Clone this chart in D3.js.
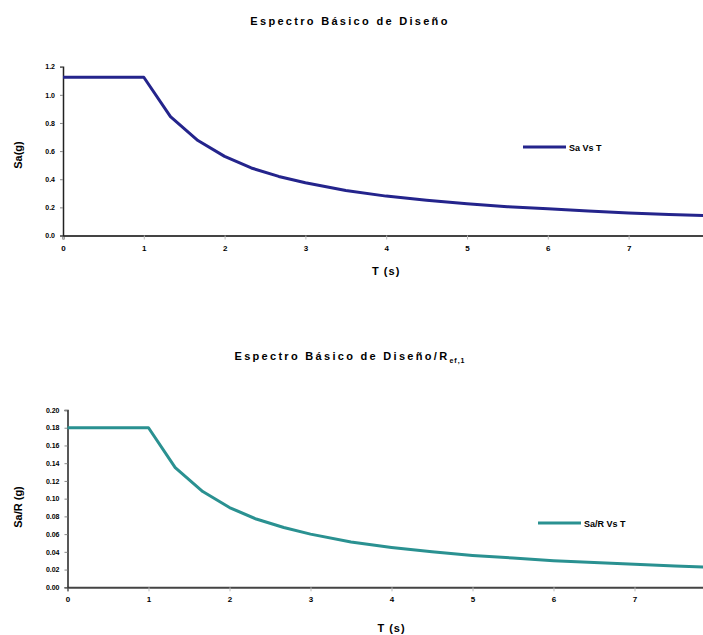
<!DOCTYPE html>
<html>
<head>
<meta charset="utf-8">
<script src="https://cdn.jsdelivr.net/npm/d3@7"></script>
<style>
body{margin:0;background:#fff;}
text{font-family:"Liberation Sans",Arial,sans-serif;fill:#000;}
</style>
</head>
<body>
<div id="canvas"></div>
<script>
// espectro.js

var width = 703;
var height = 635;

// periods (s)
var periods = [0, 0.5, 1, 1.33, 1.67, 2, 2.33, 2.67, 3, 3.5, 4, 4.5, 5, 5.5, 6, 6.5, 7, 7.5, 8];
// Sa (g)
var sa = [1.125, 1.125, 1.125, 0.845, 0.675, 0.5625, 0.48, 0.42, 0.375, 0.32, 0.28, 0.25, 0.225, 0.205, 0.19, 0.175, 0.16, 0.15, 0.14];
// Sa/R (g)
var saR = [0.18, 0.18, 0.18, 0.135, 0.108, 0.09, 0.077, 0.0675, 0.06, 0.051, 0.045, 0.04, 0.036, 0.033, 0.03, 0.028, 0.026, 0.024, 0.0225];

var xTicks = [0, 1, 2, 3, 4, 5, 6, 7];
var yTicksTop = [0, 0.2, 0.4, 0.6, 0.8, 1.0, 1.2];
var yTicksBot = [0, 0.02, 0.04, 0.06, 0.08, 0.10, 0.12, 0.14, 0.16, 0.18, 0.20];

var charts = [
	{title: "Espectro Básico de Diseño", ylabel: "Sa(g)", legend: "Sa Vs T", values: sa,
	 color: "#24248c", x0: 63, dx: 80.8, yTop: 66.7, yBot: 235.5, ymax: 1.2, yticks: yTicksTop, fmt: ".1f",
	 titleY: 25, xlabY: 275, ylabX: 22, ylabY: 155, legX: 523, legY: 147},
	{title: "Espectro Básico de Diseño/R", sub: "ef,1", ylabel: "Sa/R (g)", legend: "Sa/R Vs T", values: saR,
	 color: "#2a9191", x0: 67.5, dx: 81, yTop: 410, yBot: 587.3, ymax: 0.2, yticks: yTicksBot, fmt: ".2f",
	 titleY: 360, xlabY: 632, ylabX: 22, ylabY: 507, legX: 538, legY: 523}
];

var svg = d3.select("#canvas").append("svg")
	.attr("width", width)
	.attr("height", height);

charts.forEach(function(c){
	var x = d3.scaleLinear().domain([0, 8]).range([c.x0, c.x0 + 8*c.dx]);
	var y = d3.scaleLinear().domain([0, c.ymax]).range([c.yBot, c.yTop]);
	var g = svg.append("g");

	// title
	var t = g.append("text")
		.attr("x", 350).attr("y", c.titleY)
		.attr("text-anchor", "middle")
		.style("font-size", "11px").style("font-weight", "bold")
		.style("letter-spacing", "2.3px")
		.text(c.title);
	if(c.sub){
		t.append("tspan").attr("dy", 3).style("font-size", "7px").style("letter-spacing", "1px").text(c.sub);
	}

	// x axis
	var xa = g.append("g")
		.attr("transform", "translate(0," + c.yBot + ")")
		.call(d3.axisBottom(x).tickValues(xTicks).tickSize(4).tickFormat(d3.format("d")));
	xa.select(".domain").attr("stroke", "#444").attr("stroke-width", 2);
	xa.selectAll(".tick line").attr("stroke", "#bbb");
	xa.selectAll(".tick text").attr("dy", "1.0em")
		.style("font-size", "8px").style("font-weight", "bold");

	// y axis
	var ya = g.append("g")
		.attr("transform", "translate(" + c.x0 + ",0)")
		.call(d3.axisLeft(y).tickValues(c.yticks).tickSize(3).tickFormat(d3.format(c.fmt)));
	ya.select(".domain").attr("stroke", "#222").attr("stroke-width", 1.5);
	ya.selectAll(".tick line").attr("stroke", "#888");
	ya.selectAll(".tick text").attr("x", -8)
		.style("font-size", "7px").style("font-weight", "bold");

	// axis labels
	g.append("text")
		.attr("x", c.x0 + 4*c.dx).attr("y", c.xlabY)
		.attr("text-anchor", "middle")
		.style("font-size", "11px").style("font-weight", "bold").style("letter-spacing", "1px")
		.text("T (s)");
	g.append("text")
		.attr("transform", "translate(" + c.ylabX + "," + c.ylabY + ") rotate(-90)")
		.attr("text-anchor", "middle")
		.style("font-size", "11px").style("font-weight", "bold")
		.text(c.ylabel);

	// curve
	var pts = periods.map(function(p, i){ return [p, c.values[i]]; });
	g.append("path")
		.datum(pts)
		.attr("fill", "none")
		.attr("stroke", c.color)
		.attr("stroke-width", 3)
		.attr("stroke-linejoin", "round")
		.attr("d", d3.line()
			.x(function(d){ return x(d[0]); })
			.y(function(d){ return y(d[1]); }));

	// legend
	g.append("line")
		.attr("x1", c.legX).attr("x2", c.legX + 43)
		.attr("y1", c.legY).attr("y2", c.legY)
		.attr("stroke", c.color).attr("stroke-width", 3);
	g.append("text")
		.attr("x", c.legX + 46).attr("y", c.legY + 3.5)
		.style("font-size", "9px").style("font-weight", "bold")
		.text(c.legend);
});
</script>
</body>
</html>
